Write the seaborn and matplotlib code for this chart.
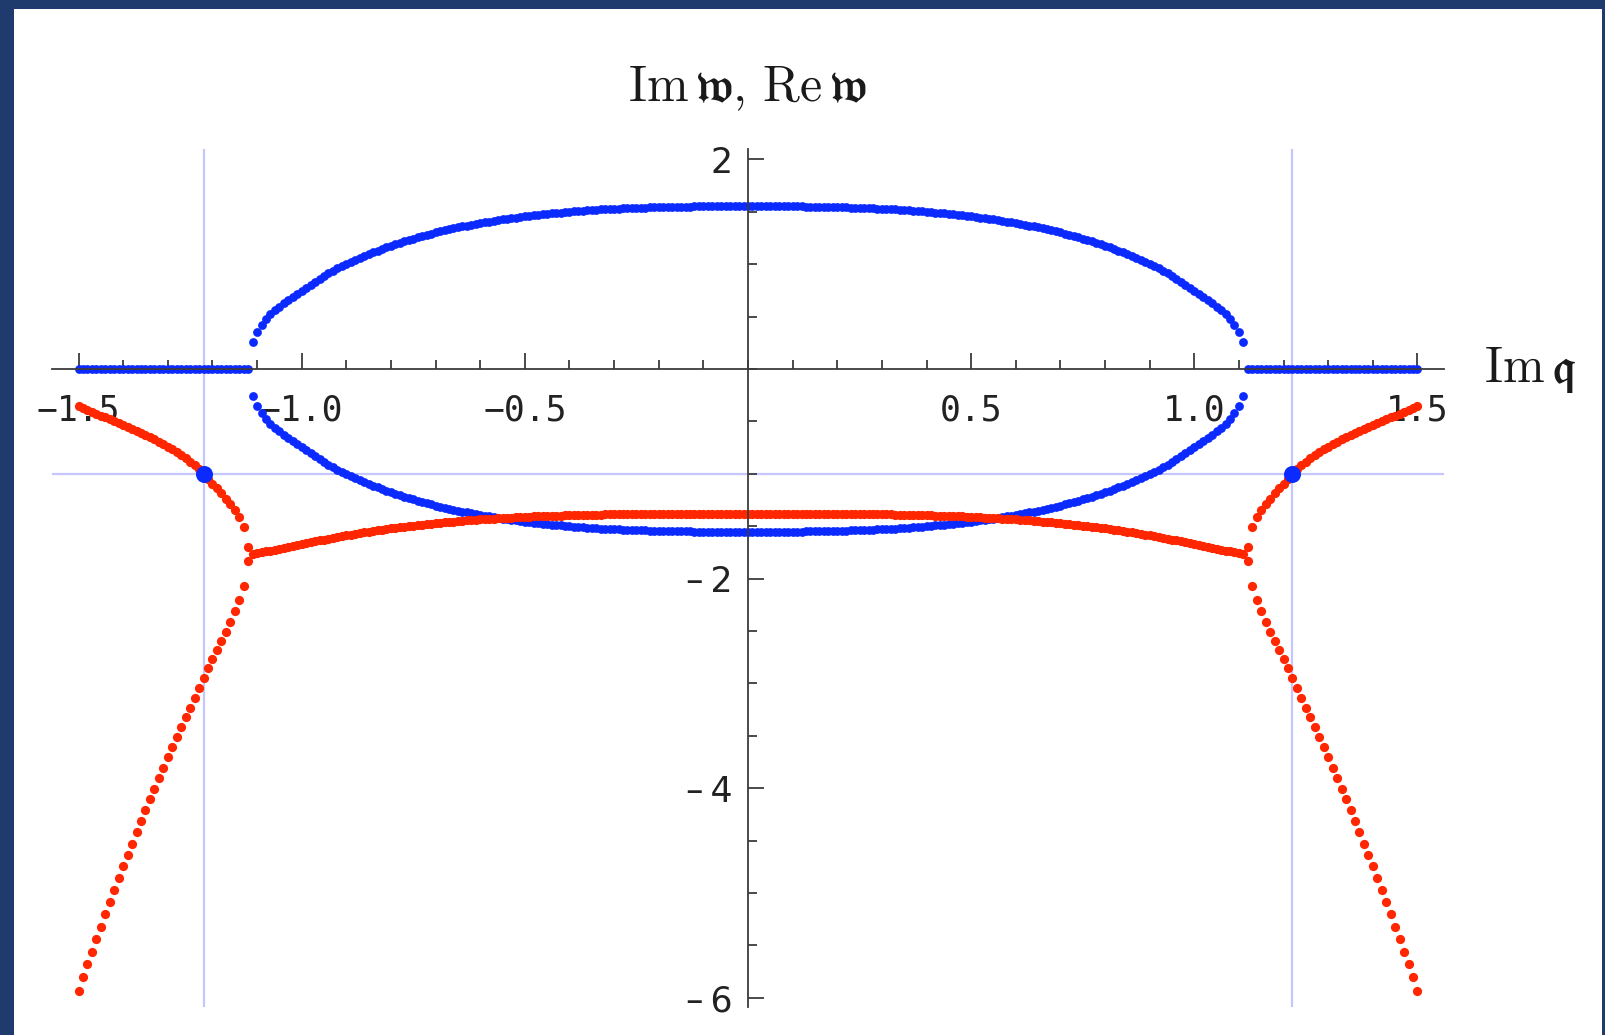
import numpy as np
import pandas as pd
import matplotlib
matplotlib.use("Agg")
import matplotlib.pyplot as plt
from matplotlib.patches import Rectangle
from matplotlib.ticker import MultipleLocator, FixedLocator
import seaborn as sns

# sampling grid in Im q (non-negative half; the spectrum is even in q)
Q_HALF = np.round(np.arange(151) * 0.01, 2)          # 0.00 ... 1.50
N_PAIR = 112                                          # 0.00 ... 1.11 : complex pair
# q >= 1.12 : two purely imaginary modes

# Re w of the complex pair (upper and lower sheets), q = 0.00 ... 1.11
BLUE_UPPER = [
    1.553, 1.553, 1.553, 1.553, 1.553, 1.553, 1.553, 1.552, 1.552, 1.552,
    1.552, 1.551, 1.551, 1.550, 1.550, 1.549, 1.549, 1.548, 1.547, 1.546,
    1.545, 1.544, 1.543, 1.541, 1.540, 1.539, 1.537, 1.535, 1.533, 1.531,
    1.529, 1.527, 1.524, 1.522, 1.520, 1.517, 1.514, 1.511, 1.508, 1.504,
    1.501, 1.497, 1.493, 1.489, 1.485, 1.481, 1.476, 1.472, 1.467, 1.462,
    1.457, 1.451, 1.445, 1.440, 1.434, 1.428, 1.421, 1.414, 1.407, 1.400,
    1.393, 1.385, 1.376, 1.368, 1.360, 1.351, 1.342, 1.332, 1.322, 1.313,
    1.303, 1.291, 1.280, 1.268, 1.257, 1.245, 1.232, 1.218, 1.205, 1.191,
    1.178, 1.162, 1.146, 1.130, 1.114, 1.098, 1.079, 1.060, 1.041, 1.022,
    1.003, 0.982, 0.959, 0.936, 0.912, 0.886, 0.860, 0.832, 0.802, 0.771,
    0.740, 0.714, 0.687, 0.658, 0.628, 0.595, 0.559, 0.521, 0.475, 0.423,
    0.354, 0.255,
]
BLUE_LOWER = [-v for v in BLUE_UPPER]

# Im w of the complex pair, q = 0.00 ... 1.11
RED_MID = [
    -1.381, -1.381, -1.381, -1.381, -1.381, -1.381, -1.381, -1.381, -1.381, -1.381,
    -1.381, -1.381, -1.381, -1.381, -1.381, -1.382, -1.382, -1.382, -1.382, -1.382,
    -1.382, -1.383, -1.383, -1.383, -1.384, -1.384, -1.384, -1.385, -1.385, -1.386,
    -1.387, -1.387, -1.388, -1.389, -1.389, -1.390, -1.391, -1.392, -1.393, -1.394,
    -1.395, -1.397, -1.398, -1.399, -1.401, -1.402, -1.404, -1.406, -1.407, -1.409,
    -1.411, -1.413, -1.415, -1.417, -1.420, -1.422, -1.424, -1.427, -1.430, -1.433,
    -1.435, -1.439, -1.442, -1.445, -1.448, -1.452, -1.456, -1.460, -1.463, -1.467,
    -1.471, -1.476, -1.480, -1.485, -1.490, -1.494, -1.500, -1.505, -1.510, -1.516,
    -1.521, -1.527, -1.533, -1.539, -1.546, -1.552, -1.559, -1.566, -1.573, -1.580,
    -1.587, -1.595, -1.603, -1.611, -1.619, -1.627, -1.636, -1.644, -1.652, -1.661,
    -1.669, -1.678, -1.688, -1.697, -1.707, -1.716, -1.724, -1.732, -1.741, -1.749,
    -1.757, -1.764,
]

# purely imaginary modes, q = 1.12 ... 1.50
RED_UP = [
    -1.700, -1.510, -1.415, -1.345, -1.288, -1.236, -1.187, -1.140, -1.094, -1.047,
    -1.000, -0.957, -0.918, -0.883, -0.850, -0.820, -0.792, -0.765, -0.740, -0.717,
    -0.694, -0.672, -0.651, -0.630, -0.610, -0.591, -0.572, -0.553, -0.534, -0.516,
    -0.498, -0.480, -0.462, -0.445, -0.427, -0.410, -0.392, -0.375, -0.355,
]
RED_LOW = [
    -1.835, -2.070, -2.200, -2.310, -2.410, -2.505, -2.595, -2.683, -2.770, -2.857,
    -2.945, -3.040, -3.136, -3.232, -3.324, -3.419, -3.511, -3.607, -3.705, -3.804,
    -3.903, -4.005, -4.106, -4.211, -4.316, -4.421, -4.529, -4.637, -4.745, -4.857,
    -4.971, -5.086, -5.203, -5.321, -5.439, -5.560, -5.680, -5.802, -5.932,
]
BLUE_AXIS = [0.0] * 39

# highlighted points and guide lines
MARK_Q = [-1.22, 1.22]
MARK_W = [-1.0, -1.0]
GUIDE_Q = [-1.22, 1.22]
GUIDE_W = [-1.0]

X_TICKS = [-1.5, -1.0, -0.5, 0.5, 1.0, 1.5]
X_LABELS = ["\u22121.5", "\u22121.0", "\u22120.5", "0.5", "1.0", "1.5"]
Y_TICKS = [-6, -4, -2, 2]
Y_LABELS = ["\u2013\u20096", "\u2013\u20094", "\u2013\u20092", "2"]


def both_sides(q, w):
    q = np.asarray(q, float)
    w = np.asarray(w, float)
    keep = q > 0
    return (np.concatenate([-q[keep][::-1], q]),
            np.concatenate([w[keep][::-1], w]))


q_pair = Q_HALF[:N_PAIR]
q_split = Q_HALF[N_PAIR:]

frames = []
for name, q, w in [("re_up", q_pair, BLUE_UPPER), ("re_lo", q_pair, BLUE_LOWER),
                   ("re_axis", q_split, BLUE_AXIS), ("im_mid", q_pair, RED_MID),
                   ("im_up", q_split, RED_UP), ("im_lo", q_split, RED_LOW)]:
    qq, ww = both_sides(q, w)
    frames.append(pd.DataFrame({"q": qq, "w": ww, "branch": name,
                                "part": "Re" if name.startswith("re") else "Im"}))
df = pd.concat(frames, ignore_index=True)

sns.set_theme(style="white")
plt.rcParams["mathtext.fontset"] = "cm"
plt.rcParams["font.family"] = ["DejaVu Sans"]

W, H = 1606, 1035
fig = plt.figure(figsize=(W / 100, H / 100), dpi=100)
fig.patch.set_facecolor("#1f3a6c")
fig.add_artist(Rectangle((14 / W, 0), (1602 - 14) / W, (H - 9) / H,
                         transform=fig.transFigure, facecolor="white",
                         edgecolor="none", zorder=0))

# axes placement: x = 0 at 748 px, 446.3 px per unit; y = 0 at 369 px, 104.8 px per unit
xmin, xmax, ymin, ymax = -1.56, 1.56, -6.09, 2.10
left = 748 + 446.3 * xmin
right = 748 + 446.3 * xmax
top = 369 - 104.8 * ymax
bottom = 369 - 104.8 * ymin
ax = fig.add_axes([left / W, (H - bottom) / H, (right - left) / W, (bottom - top) / H])
ax.patch.set_alpha(0)
ax.set_xlim(xmin, xmax)
ax.set_ylim(ymin, ymax)

guide = "#c6c6ff"
for gq in GUIDE_Q:
    ax.axvline(gq, color=guide, lw=1.6, zorder=1)
for gw in GUIDE_W:
    ax.axhline(gw, color=guide, lw=1.6, zorder=1)

blue = "#0a2aff"
red = "#ff2600"
sns.scatterplot(data=df[df.part == "Re"], x="q", y="w", color=blue, s=40,
                linewidth=0, ax=ax, zorder=3, legend=False)
sns.scatterplot(data=df[df.part == "Im"], x="q", y="w", color=red, s=44,
                linewidth=0, ax=ax, zorder=3, legend=False)
sns.scatterplot(x=MARK_Q, y=MARK_W, color=blue, s=150, linewidth=0, ax=ax,
                zorder=4, legend=False)

ax.set_xlabel("")
ax.set_ylabel("")

for s in ["top", "right"]:
    ax.spines[s].set_visible(False)
ax.spines["left"].set_position(("data", 0))
ax.spines["bottom"].set_position(("data", 0))
for s in ["left", "bottom"]:
    ax.spines[s].set_color("#3c3c3c")
    ax.spines[s].set_linewidth(1.3)
    ax.spines[s].set_zorder(3.5)

ax.xaxis.set_major_locator(FixedLocator(X_TICKS))
ax.xaxis.set_minor_locator(MultipleLocator(0.1))
ax.yaxis.set_major_locator(FixedLocator(Y_TICKS))
ax.yaxis.set_minor_locator(MultipleLocator(0.5))
ax.set_xticklabels(X_LABELS, fontfamily="DejaVu Sans Mono", fontsize=25, color="#222222")
ax.set_yticklabels(Y_LABELS, fontfamily="DejaVu Sans", fontsize=25, color="#222222")
ax.tick_params(which="both", bottom=True, left=True, top=False, right=False)
ax.tick_params(axis="x", which="major", direction="in", length=11.5, width=1.3,
               color="#3c3c3c", pad=17.5)
ax.tick_params(axis="x", which="minor", direction="in", length=6.5, width=1.3,
               color="#3c3c3c")
ax.tick_params(axis="y", which="major", direction="in", length=11.5, width=1.3,
               color="#3c3c3c", pad=11)
ax.tick_params(axis="y", which="minor", direction="in", length=6.5, width=1.3,
               color="#3c3c3c")
ax.xaxis.set_zorder(2.5)
ax.yaxis.set_zorder(2.5)

fig.text(747.5 / W, 1 - 101.7 / H,
         r"$\mathrm{Im}\,\mathfrak{w},\,\mathrm{Re}\,\mathfrak{w}$",
         ha="center", va="baseline", fontsize=36, color="#1a1a1a")
fig.text(1484 / W, 1 - 381.7 / H, r"$\mathrm{Im}\,\mathfrak{q}$",
         ha="left", va="baseline", fontsize=36, color="#1a1a1a")

fig.savefig("out.png", dpi=100, facecolor=fig.get_facecolor())
